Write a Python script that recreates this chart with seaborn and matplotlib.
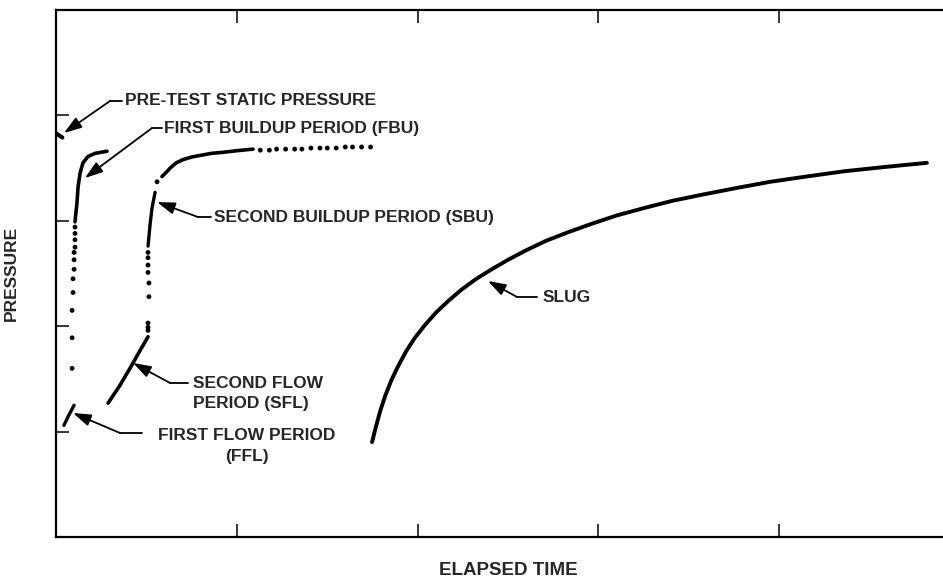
import numpy as np
import pandas as pd
import seaborn as sns
import matplotlib.pyplot as plt

# values, in tick units (elapsed time, pressure)
pretest_t = [0.0, 0.035]
pretest_p = [3.83, 3.79]

ffl_t = [0.044, 0.072, 0.100]
ffl_p = [1.06, 1.16, 1.25]

fbu_dot_t = [0.089, 0.089, 0.089, 0.094, 0.094, 0.100, 0.100, 0.100, 0.105, 0.105, 0.105, 0.105]
fbu_dot_p = [1.60, 1.89, 2.15, 2.32, 2.45, 2.54, 2.63, 2.70, 2.75, 2.82, 2.88, 2.94]
fbu_t = [0.105, 0.116, 0.122, 0.133, 0.149, 0.177, 0.216, 0.282]
fbu_p = [2.99, 3.17, 3.32, 3.45, 3.55, 3.61, 3.64, 3.66]

sfl_t = [0.288, 0.354, 0.409, 0.465, 0.509]
sfl_p = [1.27, 1.44, 1.60, 1.77, 1.90]

sbu_dot_t = [0.509, 0.509, 0.509, 0.514, 0.514, 0.509, 0.509, 0.509, 0.509, 0.559]
sbu_dot_p = [1.96, 1.99, 2.03, 2.28, 2.41, 2.51, 2.58, 2.65, 2.70, 3.37]
sbu_a_t = [0.509, 0.520, 0.531, 0.548]
sbu_a_p = [2.76, 2.96, 3.12, 3.27]
sbu_b_t = [0.586, 0.610, 0.631, 0.665, 0.702, 0.750, 0.796, 0.860, 0.924, 1.000, 1.090]
sbu_b_p = [3.42, 3.46, 3.50, 3.55, 3.58, 3.605, 3.62, 3.64, 3.65, 3.665, 3.68]
sbu_tail_t = [1.13, 1.18, 1.22, 1.27, 1.32, 1.36, 1.41, 1.46, 1.50, 1.55, 1.60, 1.64, 1.69, 1.74]
sbu_tail_p = [3.67, 3.67, 3.68, 3.68, 3.68, 3.68, 3.69, 3.69, 3.69, 3.69, 3.70, 3.70, 3.70, 3.70]

slug_t = [1.748, 1.770, 1.794, 1.821, 1.853, 1.892, 1.936, 1.985, 2.040, 2.102, 2.170,
          2.245, 2.325, 2.410, 2.500, 2.600, 2.710, 2.830, 2.960, 3.100, 3.250, 3.410,
          3.580, 3.760, 3.950, 4.150, 4.360, 4.580, 4.817]
slug_p = [0.90, 1.05, 1.20, 1.34, 1.48, 1.62, 1.76, 1.89, 2.01, 2.13, 2.24,
          2.35, 2.45, 2.54, 2.63, 2.72, 2.81, 2.89, 2.97, 3.05, 3.12, 3.19,
          3.25, 3.31, 3.37, 3.42, 3.47, 3.51, 3.55]

ticks = [1, 2, 3, 4]

sns.set_style('white')
plt.rcParams['font.family'] = ['Liberation Sans', 'DejaVu Sans']

fig = plt.figure(figsize=(9.43, 5.81), dpi=100)
ax = fig.add_axes([56 / 943, 44 / 581, 904 / 943, 527 / 581])

line_kw = dict(color='black', estimator=None, sort=False, legend=False, ax=ax)
sns.lineplot(x=pretest_t, y=pretest_p, linewidth=3, **line_kw)
sns.lineplot(x=ffl_t, y=ffl_p, linewidth=2.4, **line_kw)
sns.lineplot(x=fbu_t, y=fbu_p, linewidth=2.6, **line_kw)
sns.lineplot(x=sfl_t, y=sfl_p, linewidth=2.6, **line_kw)
sns.lineplot(x=sbu_a_t, y=sbu_a_p, linewidth=2.4, **line_kw)
sns.lineplot(x=sbu_b_t, y=sbu_b_p, linewidth=2.6, **line_kw)
sns.lineplot(x=slug_t, y=slug_p, linewidth=2.8, **line_kw)

dot_kw = dict(color='black', s=12, edgecolor='none', legend=False, ax=ax)
sns.scatterplot(x=fbu_dot_t, y=fbu_dot_p, **dot_kw)
sns.scatterplot(x=sbu_dot_t, y=sbu_dot_p, **dot_kw)
sns.scatterplot(x=sbu_tail_t, y=sbu_tail_p, **dot_kw)

ax.set_xlim(0, 5)
ax.set_ylim(0, 5)
ax.set_xticks(ticks)
ax.set_yticks(ticks)
ax.tick_params(direction='in', length=9.5, width=1.1, color='black',
               top=True, right=True, bottom=True, left=True,
               labelbottom=False, labelleft=False)
for s in ax.spines.values():
    s.set_visible(True)
    s.set_color('black')
    s.set_linewidth(1.6)

fs = 12.5
ax.set_xlabel('ELAPSED TIME', fontsize=13.5, fontweight='bold')
ax.set_ylabel('PRESSURE', fontsize=fs, fontweight='bold')
ax.xaxis.set_label_coords(0.5, -(562 - 537) / 527)
ax.yaxis.set_label_coords(-(56 - 19) / 904, 0.5)

# callouts: text, arrow tip, elbow, end of horizontal leader, text anchor, alignment
callouts = [
    ('PRE-TEST STATIC PRESSURE', (0.044, 3.833), (0.299, 4.137), 0.367, (0.382, 4.137), 'left'),
    ('FIRST BUILDUP PERIOD (FBU)', (0.160, 3.406), (0.531, 3.880), 0.586, (0.600, 3.880), 'left'),
    ('SECOND BUILDUP PERIOD (SBU)', (0.559, 3.178), (0.785, 3.036), 0.857, (0.876, 3.036), 'left'),
    ('SLUG', (2.389, 2.429), (2.550, 2.277), 2.661, (2.690, 2.277), 'left'),
    ('SECOND FLOW\nPERIOD (SFL)', (0.426, 1.651), (0.631, 1.461), 0.730, (0.755, 1.362), 'left'),
    ('FIRST FLOW PERIOD\n(FFL)', (0.094, 1.176), (0.354, 0.987), 0.476, (1.056, 0.863), 'center'),
]
for label, tip, elbow, lead_end, txy, ha in callouts:
    ax.annotate('', xy=tip, xytext=elbow,
                arrowprops=dict(arrowstyle='-|>,head_length=0.9,head_width=0.3',
                                color='black', lw=1.3, shrinkA=0, shrinkB=0,
                                mutation_scale=12))
    ax.plot([elbow[0], lead_end], [elbow[1], elbow[1]], color='black', lw=1.3)
    ax.text(txy[0], txy[1], label, ha=ha, va='center', multialignment=ha,
            fontsize=fs, fontweight='bold', linespacing=1.45)

fig.savefig('out.png', dpi=100)
